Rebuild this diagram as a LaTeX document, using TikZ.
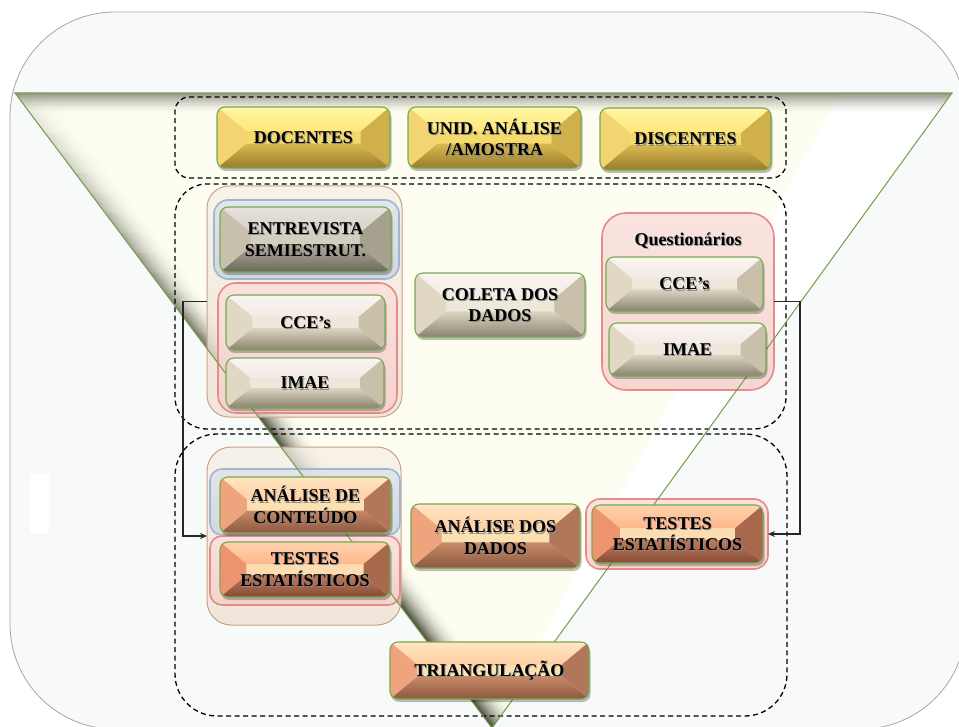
\documentclass[tikz,border=0pt]{standalone}
\usepackage{fontspec}
\setmainfont{Liberation Serif}
\usetikzlibrary{arrows.meta}

% page and funnel
\definecolor{pagebg}{HTML}{F8F9F9}
\definecolor{pageedge}{HTML}{A2A8A8}
\definecolor{cream}{HTML}{FDFDF1}
\definecolor{bandgray}{HTML}{86867C}
\definecolor{edgedark}{HTML}{2E2E1E}
\definecolor{triedge}{HTML}{6FA048}
\definecolor{btnedge}{HTML}{78A850}
% yellow buttons
\definecolor{ytop1}{HTML}{FFF6A6}\definecolor{ytop2}{HTML}{FFE676}
\definecolor{ylft}{HTML}{F2D472}\definecolor{yrgt}{HTML}{D0B04A}
\definecolor{ybot1}{HTML}{D8BA52}\definecolor{ybot2}{HTML}{9A7C2C}
\definecolor{ymid}{HTML}{F4DA6A}
% beige buttons
\definecolor{btop1}{HTML}{FAF4F2}\definecolor{btop2}{HTML}{F2EAE4}
\definecolor{blft}{HTML}{E0D8C2}\definecolor{brgt}{HTML}{C8C0A8}
\definecolor{bbot1}{HTML}{DCD5C2}\definecolor{bbot2}{HTML}{8A8370}
\definecolor{bmid}{HTML}{EEE8DA}
% grey buttons
\definecolor{gtop1}{HTML}{E6E2DA}\definecolor{gtop2}{HTML}{D6D2C6}
\definecolor{glft}{HTML}{C6C0AC}\definecolor{grgt}{HTML}{A6A08E}
\definecolor{gbot1}{HTML}{B0AA98}\definecolor{gbot2}{HTML}{6A665A}
\definecolor{gmid}{HTML}{D4CEBE}
% orange buttons
\definecolor{otop1}{HTML}{FFE6C2}\definecolor{otop2}{HTML}{FFCEA2}
\definecolor{olft}{HTML}{EEA47C}\definecolor{orgt}{HTML}{B2765A}
\definecolor{obot1}{HTML}{C88A68}\definecolor{obot2}{HTML}{8C583E}
\definecolor{omid}{HTML}{FBE0B2}
% red-orange buttons
\definecolor{rtop1}{HTML}{FFD2AC}\definecolor{rtop2}{HTML}{FFB68C}
\definecolor{rlft}{HTML}{EC9470}\definecolor{rrgt}{HTML}{A8684C}
\definecolor{rbot1}{HTML}{C07A5C}\definecolor{rbot2}{HTML}{864C34}
\definecolor{rmid}{HTML}{FCDCB0}
% containers
\definecolor{beigeedge}{HTML}{C4A48C}
\definecolor{beigetop}{HTML}{F6EEE6}
\definecolor{beigebot}{HTML}{EEDFD0}
\definecolor{blueedge}{HTML}{A0B6D0}
\definecolor{bluetop}{HTML}{DDE3EA}
\definecolor{bluebot}{HTML}{CAD3DE}
\definecolor{rededge}{HTML}{E68A8A}
\definecolor{redtop}{HTML}{FAE0DC}
\definecolor{redbot}{HTML}{F5D0CB}

\tikzset{
  dashgrp/.style={draw=black, line width=1.3pt, dash pattern=on 5pt off 3.5pt},
  outerbeige/.style={draw=beigeedge, line width=1pt, top color=beigetop, bottom color=beigebot, fill opacity=0.75},
  bluegrp/.style={draw=blueedge, line width=1.6pt, top color=bluetop, bottom color=bluebot, fill opacity=0.8},
  redgrp/.style={draw=rededge, line width=1.6pt, top color=redtop, bottom color=redbot, fill opacity=0.85},
  btntxt/.style={inner sep=0pt, outer sep=0pt, align=center, font=\fontsize{18}{21.5}\selectfont\bfseries},
  btn/.style={btntxt, draw=btnedge, line width=1.1pt, rounded corners=8pt, text=black},
  conn/.style={draw=black!85, line width=1.1pt},
}

% bevelled button: name, x0, y0, x1, y1, palette, text
\newcommand\bevelbtn[7]{%
  \pgfmathsetmacro\bbh{#5-#3}%
  \pgfmathsetmacro\bym{(#3+#5)/2}%
  \pgfmathsetmacro\bix{0.48*\bbh}%
  \pgfmathsetmacro\biy{0.10*\bbh}%
  \fill[black, opacity=0.25, rounded corners=8pt] (#2+1,#3+3) rectangle (#4+1.5,#5+3);
  \begin{scope}
    \clip[rounded corners=8pt] (#2,#3) rectangle (#4,#5);
    \fill[#6mid] (#2,#3) rectangle (#4,#5);
    \shade[top color=#6top1, bottom color=#6top2]
      (#2,#3) -- (#4,#3) -- (#4-\bix,\bym-\biy) -- (#2+\bix,\bym-\biy) -- cycle;
    \shade[top color=#6bot1, bottom color=#6bot2]
      (#2,#5) -- (#4,#5) -- (#4-\bix,\bym+\biy) -- (#2+\bix,\bym+\biy) -- cycle;
    \fill[#6lft] (#2,#3) -- (#2+\bix,\bym-\biy) -- (#2+\bix,\bym+\biy) -- (#2,#5) -- cycle;
    \fill[#6rgt] (#4,#3) -- (#4-\bix,\bym-\biy) -- (#4-\bix,\bym+\biy) -- (#4,#5) -- cycle;
  \end{scope}
  \node[btntxt, text=black!45] at ({(#2+#4)/2+1},\bym+1.2) {#7};
  \node[btn, minimum width=(#4-#2)*1pt, minimum height=(#5-#3)*1pt] (#1)
    at ({(#2+#4)/2},\bym) {#7};
}

% plain container: name, x0, y0, x1, y1, style
\newcommand\groupbox[6]{%
  \node[#6, minimum width=(#4-#2)*1pt, minimum height=(#5-#3)*1pt, inner sep=0pt, outer sep=0pt]
    (#1) at ({(#2+#4)/2},{(#3+#5)/2}) {};
}

\begin{document}
\begin{tikzpicture}[x=1pt,y=-1pt]
\useasboundingbox (0,0) rectangle (959,727);

% page
\fill[pagebg, draw=pageedge, line width=0.8pt, rounded corners=105pt] (10,12) rectangle (966,729);
\fill[white] (30,474) rectangle (49,533);

% funnel
\coordinate (tL) at (15,93);
\coordinate (tR) at (952,93);
\coordinate (tA) at (492,728);
\begin{scope}
  \clip (tL) -- (tR) -- (tA) -- cycle;
  \fill[cream] (tL) -- (tR) -- (tA) -- cycle;
  \fill[white] (840,93) -- (tR) -- (tA) -- cycle;
  % shadow along the left fold
  \foreach \i in {0,...,24} {
    \pgfmathtruncatemacro\p{round(85*(1-\i/25)^2.2)}
    \fill[edgedark!\p!cream] (15+1.5*\i,93) -- (492+1.5*\i,728) -- (494+1.5*\i,728) -- (17+1.5*\i,93) -- cycle;
  }
  % the fold shadow softens towards the top
  \foreach \j in {0,...,15} {
    \pgfmathsetmacro\op{0.92*(1-\j/16)}
    \fill[cream, opacity=\op] (0,93+20*\j) rectangle (420,113+20*\j);
  }
  % shade under the rim
  \foreach \j in {0,...,9} {
    \pgfmathsetmacro\op{0.85*(1-\j/10)^1.6}
    \fill[bandgray, opacity=\op] (0,93+2*\j) rectangle (959,95+2*\j);
  }
\end{scope}

% dashed groups
\groupbox{dTop}{175}{97}{786}{178}{dashgrp, rounded corners=14pt}
\groupbox{dMid}{175}{184}{786}{429}{dashgrp, rounded corners=32pt}
\groupbox{dBot}{175}{434}{787}{716}{dashgrp, rounded corners=42pt}

% containers
\groupbox{cA}{207}{186}{402}{417}{outerbeige, rounded corners=22pt}
\groupbox{gBlueA}{214}{200}{399}{279}{bluegrp, rounded corners=14pt}
\groupbox{gRedA}{218}{283}{397}{413}{redgrp, rounded corners=18pt}
\groupbox{qG}{602}{213}{774}{390}{redgrp, rounded corners=24pt}
\groupbox{cB}{207}{447}{401}{625}{outerbeige, rounded corners=24pt}
\groupbox{gBlueB}{210}{469}{400}{535}{bluegrp, rounded corners=12pt}
\groupbox{gRedB}{210}{536}{400}{605}{redgrp, rounded corners=12pt}
\groupbox{tRg}{586}{499}{768}{569}{redgrp, rounded corners=14pt}

% funnel outline
\draw[triedge, line width=1pt] (tL) -- (tR) -- (tA) -- cycle;

% buttons
\bevelbtn{bDoc}{217}{107}{390}{168}{y}{DOCENTES}
\bevelbtn{bUni}{408}{107}{581}{168}{y}{UNID. ANÁLISE\\/AMOSTRA}
\bevelbtn{bDis}{600}{108}{771}{170}{y}{DISCENTES}

\bevelbtn{bEnt}{220}{207}{391}{272}{g}{ENTREVISTA\\SEMIESTRUT.}
\bevelbtn{bCceA}{226}{295}{385}{350}{b}{CCE’s}
\bevelbtn{bImaeA}{226}{358}{384}{408}{b}{IMAE}
\bevelbtn{bCol}{415}{273}{585}{337}{b}{COLETA DOS\\DADOS}
\node[btntxt, text=black!40] at (689,242.2) {Questionários};
\node[btntxt] (qT) at (688,241) {Questionários};
\bevelbtn{bCceB}{606}{257}{763}{311}{b}{CCE’s}
\bevelbtn{bImaeB}{609}{323}{766}{376}{b}{IMAE}

\bevelbtn{bAna}{220}{477}{391}{533}{o}{ANÁLISE DE\\CONTEÚDO}
\bevelbtn{bTesA}{220}{542}{390}{597}{r}{TESTES\\ESTATÍSTICOS}
\bevelbtn{bAnd}{411}{504}{580}{568}{o}{ANÁLISE DOS\\DADOS}
\bevelbtn{bTesB}{592}{505}{763}{563}{r}{TESTES\\ESTATÍSTICOS}
\bevelbtn{bTri}{390}{642}{589}{699}{o}{TRIANGULAÇÃO}

% connectors
\draw[conn, -{Stealth[length=7pt,width=6pt]}] (cA.west) -- ++(-24,0) |- (cB.west);
\draw[conn, -{Stealth[length=7pt,width=6pt]}] (qG.east) -- ++(26,0) |- (tRg.east);
\end{tikzpicture}
\end{document}
